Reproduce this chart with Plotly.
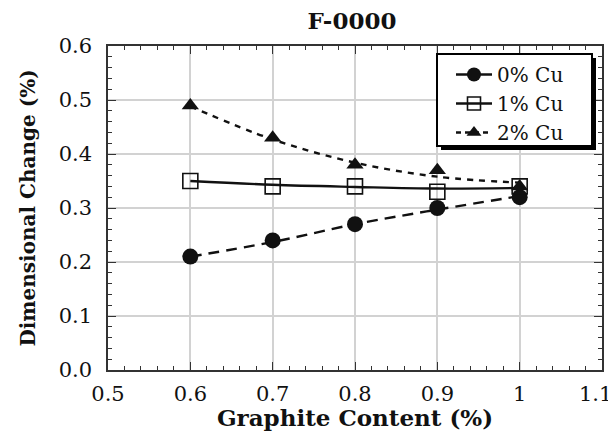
import plotly.graph_objects as go

# measured points
graphite = [0.6, 0.7, 0.8, 0.9, 1.0]
cu0 = [0.21, 0.24, 0.27, 0.30, 0.32]
cu1 = [0.35, 0.34, 0.34, 0.33, 0.34]
cu2 = [0.49, 0.43, 0.38, 0.37, 0.34]
# smooth curves at the same x positions
curve0 = [0.21, 0.237, 0.270, 0.297, 0.322]
curve1 = [0.350, 0.343, 0.339, 0.336, 0.337]
curve2 = [0.488, 0.427, 0.384, 0.358, 0.347]
series_names = ["0% Cu", "1% Cu", "2% Cu"]
x_ticks = [0.5, 0.6, 0.7, 0.8, 0.9, 1.0, 1.1]
x_tick_text = ["0.5", "0.6", "0.7", "0.8", "0.9", "1", ""]
last_x_label = "1.1"
y_ticks = [0.0, 0.1, 0.2, 0.3, 0.4, 0.5, 0.6]
y_tick_text = ["0.0", "0.1", "0.2", "0.3", "0.4", "0.5", "0.6"]

FONT = "DejaVu Serif"
INK = "#111111"

styles = [
    dict(dash="11px,7px", legdash="solid", symbol="circle", size=16, mline=0),
    dict(dash="solid", legdash="solid", symbol="square-open", size=15, mline=1.6),
    dict(dash="6px,6px", legdash="5px,4px", symbol="triangle-up", size=15, mline=0),
]
values = [cu0, cu1, cu2]
curves = [curve0, curve1, curve2]

fig = go.Figure()
for name, vals, curve, st in zip(series_names, values, curves, styles):
    fig.add_trace(go.Scatter(
        x=graphite, y=curve, mode="lines", showlegend=False, hoverinfo="skip",
        line=dict(color=INK, width=2.4, dash=st["dash"], shape="spline", smoothing=1.0),
    ))
    fig.add_trace(go.Scatter(
        x=graphite, y=vals, mode="markers", showlegend=False, name=name,
        marker=dict(symbol=st["symbol"], size=st["size"], color=INK,
                    line=dict(width=st["mline"], color=INK)),
    ))
    # legend entry (line + marker sample)
    fig.add_trace(go.Scatter(
        x=[None], y=[None], mode="lines+markers", name=name,
        line=dict(color=INK, width=2.4, dash=st["legdash"]),
        marker=dict(symbol=st["symbol"], size=st["size"] - 2, color=INK,
                    line=dict(width=st["mline"], color=INK)),
    ))

# page has an 8px body margin, so work in figure coords = window coords - 8
W, H = 608, 423
L, R, T, B = 100, 14, 38, 61
pw, ph = W - L - R, H - T - B

def px_x(p):
    return (p - L) / pw

def px_y(p):
    return (H - B - p) / ph

# legend frame with drop shadow (figure px)
BOX_L, BOX_R, BOX_T, BOX_B = 429, 584, 46, 138
SH = 4
fig.add_shape(type="rect", xref="paper", yref="paper",
              x0=px_x(BOX_L + SH), x1=px_x(BOX_R + SH), y0=px_y(BOX_B + SH), y1=px_y(BOX_T + SH),
              fillcolor="black", line=dict(width=0), layer="above")
fig.add_shape(type="rect", xref="paper", yref="paper",
              x0=px_x(BOX_L), x1=px_x(BOX_R), y0=px_y(BOX_B), y1=px_y(BOX_T),
              fillcolor="white", line=dict(width=2, color="black"), layer="above")

fig.add_annotation(x=1.1, xref="x", y=0, yref="paper", yanchor="top", xanchor="center",
                   xshift=-7, yshift=-10, text=last_x_label, showarrow=False,
                   font=dict(size=21, family=FONT, color=INK))

axis_common = dict(
    showgrid=True, gridcolor="#d2d2d2", gridwidth=1.5,
    zeroline=False, showline=True, linecolor="#333", linewidth=1.5,
    mirror="allticks", ticks="inside", ticklen=8, tickcolor="#333", tickwidth=1.2,
    tickfont=dict(size=21, family=FONT, color=INK),
    ticklabeloverflow="allow", automargin=False,
)

fig.update_layout(
    width=W, height=H,
    margin=dict(l=L, r=R, t=T, b=B),
    paper_bgcolor="white", plot_bgcolor="white",
    font=dict(family=FONT, color=INK, size=20),
    title=dict(text="<b>F-0000</b>", x=344 / W, xanchor="center",
               y=1 - 13 / H, yanchor="middle", font=dict(size=23, family=FONT, color=INK)),
    showlegend=True,
    legend=dict(x=px_x(443), y=px_y(47), xanchor="left", yanchor="top",
                bgcolor="rgba(0,0,0,0)", borderwidth=0,
                font=dict(size=20, family=FONT, color=INK), itemwidth=36,
                tracegroupgap=0),
    xaxis=dict(range=[0.5, 1.1], tickvals=x_ticks, ticktext=x_tick_text,
               minor=dict(dtick=0.02, ticks="inside", ticklen=4, tickcolor="#333", showgrid=False),
               ticklabelstandoff=4,
               title=dict(text="<b>Graphite Content (%)</b>", standoff=0,
                          font=dict(size=23, family=FONT, color=INK)),
               **axis_common),
    yaxis=dict(range=[0, 0.6], tickvals=y_ticks, ticktext=y_tick_text,
               minor=dict(dtick=0.02, ticks="inside", ticklen=4, tickcolor="#333", showgrid=False),
               ticklabelstandoff=10,
               title=dict(text="<b>Dimensional Change (%)</b>", standoff=18,
                          font=dict(size=20, family=FONT, color=INK)),
               **axis_common),
)

fig.write_html("out.html")
